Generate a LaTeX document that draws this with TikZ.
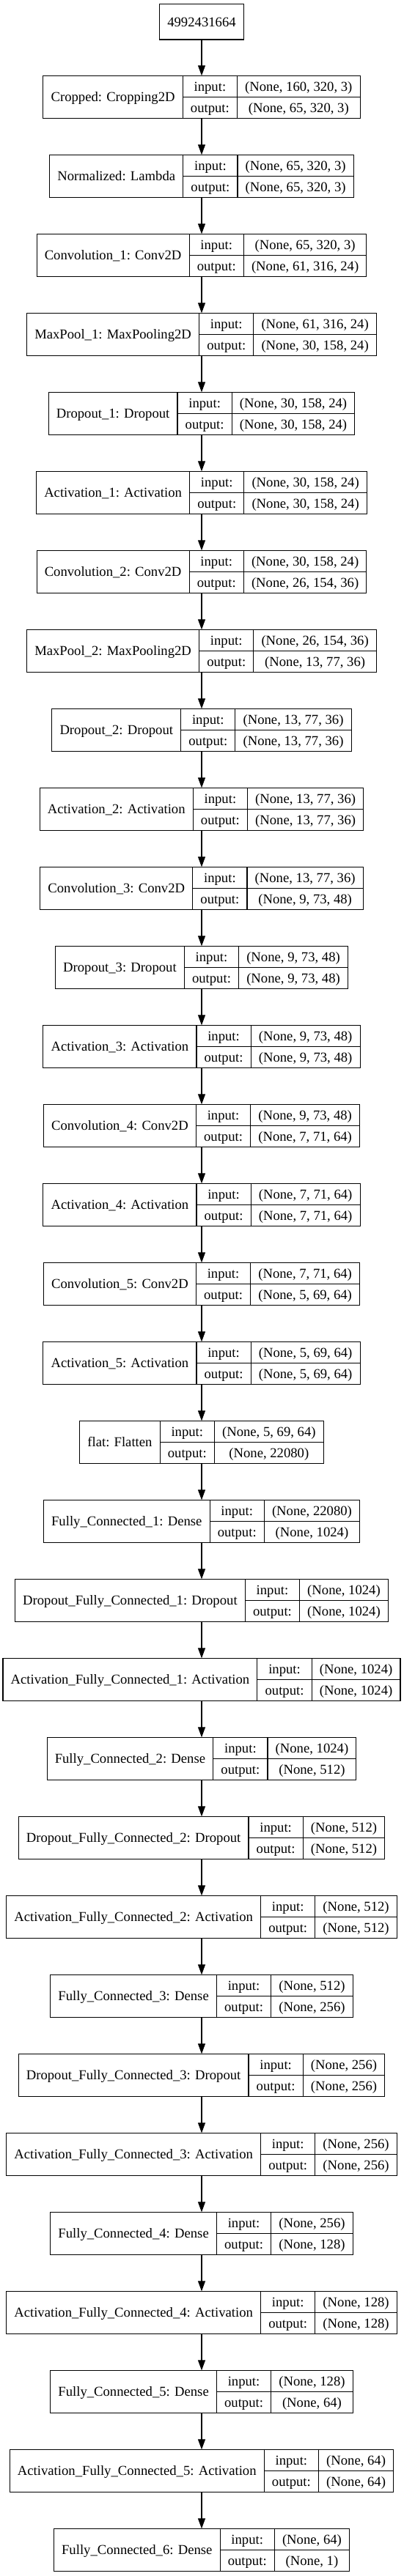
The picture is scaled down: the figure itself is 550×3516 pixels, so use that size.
\documentclass[tikz,border=0pt]{standalone}
\usepackage{fontspec}
\setmainfont{Liberation Serif}
\usetikzlibrary{arrows.meta}
\newlength\wA \newlength\wB \newlength\wC \newlength\wD
\newcommand\lfont{\fontsize{18.67pt}{22pt}\selectfont}
\tikzset{
  rec/.style={draw=black, line width=1.1pt, outer sep=0pt, inner sep=0pt, rectangle},
  txt/.style={inner sep=0pt, font=\lfont, text height=13.5pt, text depth=0.5pt},
  arr/.style={draw=black, line width=1.1pt, -{Triangle[length=14pt,width=10pt]}},
  sep/.style={draw=black, line width=1.1pt},
}
\newcommand\layer[6]{%
  \pgfinterruptpicture
    \normalfont\lfont
    \settowidth\wA{#3}\global\wA=\wA
    \settowidth\wB{output:}\global\wB=\wB
    \settowidth\wC{#4}\settowidth\wD{#5}%
    \ifdim\wD>\wC \wC=\wD\fi
    \global\wC=\wC
  \endpgfinterruptpicture
  \pgfmathsetmacro\Tot{\wA+\wB+\wC+63.99}%
  \pgfmathsetmacro\Lx{275-\Tot/2}%
  \pgfmathsetmacro\Ax{\Lx+\wA+21.33}%
  \pgfmathsetmacro\Bx{\Ax+\wB+21.33}%
  \pgfmathsetmacro\Rx{\Bx+\wC+21.33}%
  \pgfmathsetmacro\Yt{103.3+108*#2}%
  \pgfmathsetmacro\Ym{\Yt+29.15}%
  \pgfmathsetmacro\Yb{\Yt+58.3}%
  \pgfmathsetmacro\Yi{\Yt+14.575}%
  \pgfmathsetmacro\Yo{\Yt+43.725}%
  \node[rec, minimum width=\Tot pt, minimum height=58.3pt, anchor=north] (#1) at (275,\Yt) {};
  \draw[sep] (\Ax,\Yt) -- (\Ax,\Yb);
  \draw[sep] (\Bx,\Yt) -- (\Bx,\Yb);
  \draw[sep] (\Ax,\Ym) -- (\Rx,\Ym);
  \node[txt] (#1-l) at ({(\Lx+\Ax)/2},\Ym) {#3};
  \node[txt] (#1-i) at ({(\Ax+\Bx)/2},\Yi) {input:};
  \node[txt] (#1-o) at ({(\Ax+\Bx)/2},\Yo) {output:};
  \node[txt] (#1-si) at ({(\Bx+\Rx)/2},\Yi) {#4};
  \node[txt] (#1-so) at ({(\Bx+\Rx)/2},\Yo) {#5};
  \draw[arr] (#6.south) -- (#1.north);
}
\begin{document}
\begin{tikzpicture}[x=1pt,y=-1pt]
\useasboundingbox (0,0) rectangle (550,3516);
\fill[white] (0,0) rectangle (550,3516);
\node[rec, txt, inner xsep=10.665pt, minimum height=48.3pt, anchor=north] (L0) at (275,5.7) {4992431664};
\layer{L1}{0}{Cropped: Cropping2D}{(None, 160, 320, 3)}{(None, 65, 320, 3)}{L0}
\layer{L2}{1}{Normalized: Lambda}{(None, 65, 320, 3)}{(None, 65, 320, 3)}{L1}
\layer{L3}{2}{Convolution\_1: Conv2D}{(None, 65, 320, 3)}{(None, 61, 316, 24)}{L2}
\layer{L4}{3}{MaxPool\_1: MaxPooling2D}{(None, 61, 316, 24)}{(None, 30, 158, 24)}{L3}
\layer{L5}{4}{Dropout\_1: Dropout}{(None, 30, 158, 24)}{(None, 30, 158, 24)}{L4}
\layer{L6}{5}{Activation\_1: Activation}{(None, 30, 158, 24)}{(None, 30, 158, 24)}{L5}
\layer{L7}{6}{Convolution\_2: Conv2D}{(None, 30, 158, 24)}{(None, 26, 154, 36)}{L6}
\layer{L8}{7}{MaxPool\_2: MaxPooling2D}{(None, 26, 154, 36)}{(None, 13, 77, 36)}{L7}
\layer{L9}{8}{Dropout\_2: Dropout}{(None, 13, 77, 36)}{(None, 13, 77, 36)}{L8}
\layer{L10}{9}{Activation\_2: Activation}{(None, 13, 77, 36)}{(None, 13, 77, 36)}{L9}
\layer{L11}{10}{Convolution\_3: Conv2D}{(None, 13, 77, 36)}{(None, 9, 73, 48)}{L10}
\layer{L12}{11}{Dropout\_3: Dropout}{(None, 9, 73, 48)}{(None, 9, 73, 48)}{L11}
\layer{L13}{12}{Activation\_3: Activation}{(None, 9, 73, 48)}{(None, 9, 73, 48)}{L12}
\layer{L14}{13}{Convolution\_4: Conv2D}{(None, 9, 73, 48)}{(None, 7, 71, 64)}{L13}
\layer{L15}{14}{Activation\_4: Activation}{(None, 7, 71, 64)}{(None, 7, 71, 64)}{L14}
\layer{L16}{15}{Convolution\_5: Conv2D}{(None, 7, 71, 64)}{(None, 5, 69, 64)}{L15}
\layer{L17}{16}{Activation\_5: Activation}{(None, 5, 69, 64)}{(None, 5, 69, 64)}{L16}
\layer{L18}{17}{flat: Flatten}{(None, 5, 69, 64)}{(None, 22080)}{L17}
\layer{L19}{18}{Fully\_Connected\_1: Dense}{(None, 22080)}{(None, 1024)}{L18}
\layer{L20}{19}{Dropout\_Fully\_Connected\_1: Dropout}{(None, 1024)}{(None, 1024)}{L19}
\layer{L21}{20}{Activation\_Fully\_Connected\_1: Activation}{(None, 1024)}{(None, 1024)}{L20}
\layer{L22}{21}{Fully\_Connected\_2: Dense}{(None, 1024)}{(None, 512)}{L21}
\layer{L23}{22}{Dropout\_Fully\_Connected\_2: Dropout}{(None, 512)}{(None, 512)}{L22}
\layer{L24}{23}{Activation\_Fully\_Connected\_2: Activation}{(None, 512)}{(None, 512)}{L23}
\layer{L25}{24}{Fully\_Connected\_3: Dense}{(None, 512)}{(None, 256)}{L24}
\layer{L26}{25}{Dropout\_Fully\_Connected\_3: Dropout}{(None, 256)}{(None, 256)}{L25}
\layer{L27}{26}{Activation\_Fully\_Connected\_3: Activation}{(None, 256)}{(None, 256)}{L26}
\layer{L28}{27}{Fully\_Connected\_4: Dense}{(None, 256)}{(None, 128)}{L27}
\layer{L29}{28}{Activation\_Fully\_Connected\_4: Activation}{(None, 128)}{(None, 128)}{L28}
\layer{L30}{29}{Fully\_Connected\_5: Dense}{(None, 128)}{(None, 64)}{L29}
\layer{L31}{30}{Activation\_Fully\_Connected\_5: Activation}{(None, 64)}{(None, 64)}{L30}
\layer{L32}{31}{Fully\_Connected\_6: Dense}{(None, 64)}{(None, 1)}{L31}
\end{tikzpicture}
\end{document}
